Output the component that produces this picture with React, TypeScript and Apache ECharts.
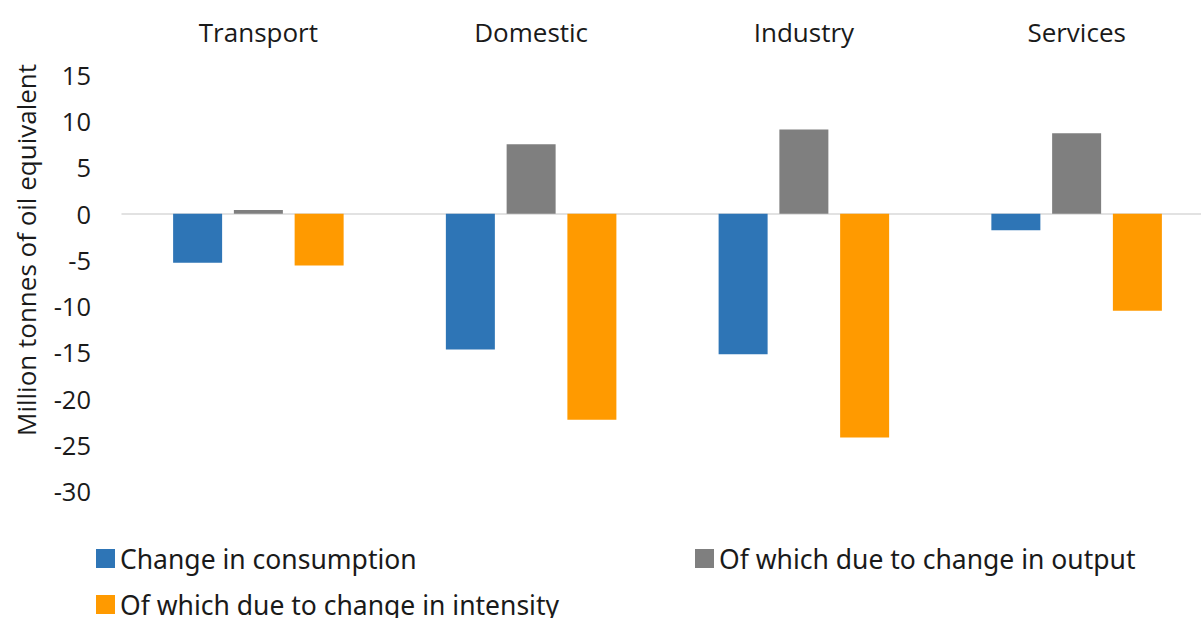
import React, { useEffect, useRef } from "react";
import * as echarts from "echarts";

// Sectors shown across the top of the chart
const sectors = ["Transport", "Domestic", "Industry", "Services"];

// Million tonnes of oil equivalent, per sector
const changeInConsumption = [-5.3, -14.7, -15.2, -1.8];
const dueToOutput = [0.4, 7.5, 9.1, 8.7];
const dueToIntensity = [-5.6, -22.3, -24.2, -10.5];

const yTicks = { min: -30, max: 15, step: 5 };

const seriesNames = [
  "Change in consumption",
  "Of which due to change in output",
  "Of which due to change in intensity",
];
const seriesColors = ["#2E75B6", "#7F7F7F", "#FF9A00"];

const axisFont = "'Open Sans', 'Noto Sans', sans-serif";
const legendFont = "'Noto Sans', 'Open Sans', sans-serif";

export default function App() {
  const ref = useRef<HTMLDivElement>(null);

  useEffect(() => {
    if (!ref.current) return;
    const chart = echarts.init(ref.current, null, { renderer: "svg" });

    const legendItem = (name: string, left: number, top: number) => ({
      show: true,
      data: [name],
      left,
      top,
      padding: 0,
      icon: "rect",
      itemWidth: 19,
      itemHeight: 19,
      selectedMode: false,
      textStyle: {
        fontFamily: legendFont,
        fontSize: 26.5,
        color: "#1a1a1a",
        lineHeight: 26,
      },
    });

    const data = [changeInConsumption, dueToOutput, dueToIntensity];

    chart.setOption({
      animation: false,
      backgroundColor: "#ffffff",
      grid: { left: 122, right: 0, top: 75, bottom: 127, containLabel: false },
      legend: [
        legendItem(seriesNames[0], 96, 545),
        legendItem(seriesNames[1], 695, 545),
        legendItem(seriesNames[2], 96, 591),
      ],
      xAxis: [
        {
          type: "category",
          data: sectors,
          position: "bottom",
          axisLine: { show: true, onZero: true, lineStyle: { color: "#d9d9d9", width: 1.5 } },
          axisTick: { show: false },
          axisLabel: { show: false },
          splitLine: { show: false },
        },
        {
          type: "category",
          data: sectors,
          position: "top",
          axisLine: { show: false, onZero: false },
          axisTick: { show: false },
          axisLabel: {
            show: true,
            margin: 30,
            fontFamily: axisFont,
            fontSize: 26,
            color: "#1a1a1a",
          },
          splitLine: { show: false },
        },
      ],
      yAxis: {
        type: "value",
        min: yTicks.min,
        max: yTicks.max,
        interval: yTicks.step,
        axisLine: { show: false },
        axisTick: { show: false },
        splitLine: { show: false },
        axisLabel: {
          margin: 31,
          fontFamily: axisFont,
          fontSize: 25.5,
          color: "#1a1a1a",
        },
      },
      graphic: [
        {
          type: "text",
          x: 26,
          y: 250,
          rotation: Math.PI / 2,
          style: {
            text: "Million tonnes of oil equivalent",
            fontFamily: axisFont,
            fontSize: 26,
            fill: "#1a1a1a",
            textAlign: "center",
            textVerticalAlign: "middle",
          },
        },
      ],
      series: seriesNames.map((name, i) => ({
        name,
        type: "bar",
        xAxisIndex: 0,
        data: data[i],
        barWidth: 49,
        barGap: "24%",
        itemStyle: { color: seriesColors[i] },
      })),
    });

    return () => chart.dispose();
  }, []);

  // The plot runs a little past the right edge of the frame, so the chart
  // is wider than its clipping wrapper.
  return (
    <div
      style={{
        position: "absolute",
        left: 0,
        top: 0,
        width: 1201,
        height: 618,
        overflow: "hidden",
      }}
    >
      <div ref={ref} style={{ width: 1213, height: 618 }} />
    </div>
  );
}
